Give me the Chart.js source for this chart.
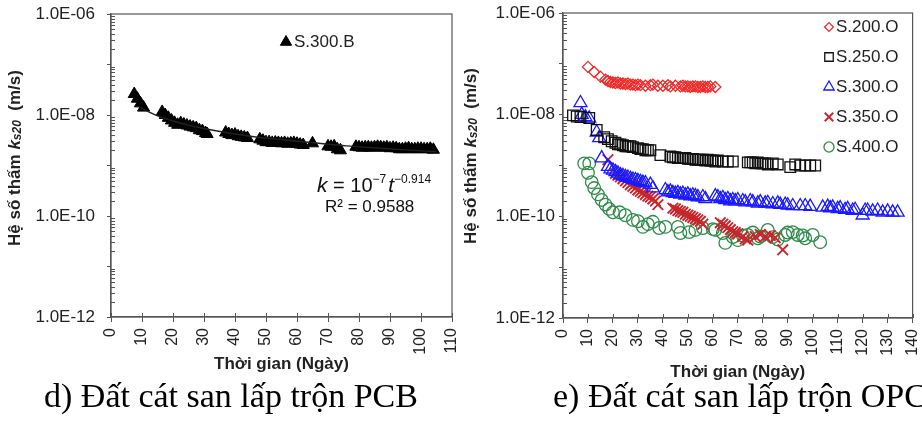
<!DOCTYPE html>
<html><head><meta charset="utf-8">
<script src="https://cdn.jsdelivr.net/npm/chart.js@4.4.0/dist/chart.umd.min.js"></script>
<style>
html,body{margin:0;padding:0;background:#fff}
body{width:922px;height:423px;overflow:hidden;position:relative}
#c1{position:absolute;left:0;top:0}
#c2{position:absolute;left:460px;top:0}
.cap{position:absolute;font-family:"Liberation Serif","Times New Roman",serif;font-size:34px;color:#000;white-space:nowrap;top:376px;line-height:40px}
</style></head>
<body>
<canvas id="c1" width="460" height="380"></canvas>
<canvas id="c2" width="462" height="390"></canvas>
<div class="cap" style="left:44px">d) Đất cát san lấp trộn PCB</div>
<div class="cap" style="left:553px">e) Đất cát san lấp trộn OPC</div>
<script>
// ---------- DATA ----------
const yMajorValues = [1e-12, 1e-10, 1e-8, 1e-6];
const yMajorLabels = ['1.0E-12', '1.0E-10', '1.0E-08', '1.0E-06'];
const xTitle = 'Thời gian (Ngày)';

// d) S.300.B
const pcbDays = [7.5,8.5,9.5,10.5,16.5,17.5,18.5,19.5,20.5,21.5,22.5,23.5,24.5,25.5,26.5,27.5,28.5,29.5,30.5,31,
  37,38,39,40,41,42,43,44,48,49,50,51,52,53,54,55,56,57,58,59,60,61,62,65,70,71,72,73,74,
  79,80,81,82,83,84,85,86,87,88,89,90,91,92,93,94,95,96,97,98,99,100,101,102,103,104];
const pcbK = [2.6e-8,2.1e-8,1.7e-8,1.4e-8,1.15e-8,1.0e-8,8.8e-9,7.8e-9,7.0e-9,6.4e-9,6.9e-9,6.5e-9,6.2e-9,5.9e-9,5.7e-9,5.5e-9,5.0e-9,4.8e-9,4.4e-9,4.2e-9,
  4.5e-9,4.2e-9,4.0e-9,4.1e-9,3.8e-9,3.7e-9,3.6e-9,3.5e-9,3.3e-9,3.1e-9,2.9e-9,2.9e-9,2.8e-9,2.85e-9,2.8e-9,2.75e-9,2.8e-9,2.7e-9,2.75e-9,2.8e-9,2.7e-9,2.6e-9,2.55e-9,2.75e-9,2.4e-9,2.35e-9,2.4e-9,2.1e-9,2.0e-9,
  2.35e-9,2.3e-9,2.25e-9,2.3e-9,2.3e-9,2.25e-9,2.3e-9,2.35e-9,2.3e-9,2.25e-9,2.3e-9,2.2e-9,2.25e-9,2.2e-9,2.1e-9,2.1e-9,2.15e-9,2.2e-9,2.1e-9,2.1e-9,2.15e-9,2.15e-9,2.1e-9,2.1e-9,2.15e-9,2.05e-9];
// trend line
const trendDays = [9.5,12,16,20,25,30,37,45,56,67,76,90,105];
const trendK = [1.42e-8,1.17e-8,9.1e-9,7.6e-9,6.3e-9,5.4e-9,4.5e-9,3.8e-9,3.2e-9,2.75e-9,2.45e-9,2.13e-9,1.87e-9];

// e) OPC series
const s200Days = [10,12.5,15,17,18,19,20,21,22,23,24,25,26,27,28,29,30,31,33,35,36,38,40,42,43,45,47,48,49,50,51,52,53,54,55,56,57,58,59,61];
const s200K = [8.7e-8,6.9e-8,5.6e-8,4.9e-8,4.6e-8,4.4e-8,4.3e-8,4.2e-8,4.3e-8,4.1e-8,4.1e-8,4.0e-8,4.1e-8,3.9e-8,3.9e-8,3.8e-8,3.9e-8,3.8e-8,3.7e-8,3.8e-8,3.9e-8,3.7e-8,3.7e-8,3.8e-8,3.6e-8,3.7e-8,3.6e-8,3.7e-8,3.6e-8,3.6e-8,3.5e-8,3.6e-8,3.6e-8,3.5e-8,3.5e-8,3.6e-8,3.5e-8,3.5e-8,3.6e-8,3.5e-8];

const s250Days = [4,5.5,7,10.5,13.5,16.5,18,19.5,21,22,23,24,25,26,27,28,30,31,32,33,34,35,39,43,44,45,46,47,48,49,50,51,52,53,54,55,56,57,58,59,60,61,62,64,66,68,
  74,75,76,77,78,79,80,81,82,84,86,91,93,95,97,99,101];
const s250K = [9.7e-9,9.2e-9,9.0e-9,8.6e-9,5.0e-9,3.6e-9,3.3e-9,3.0e-9,2.8e-9,2.6e-9,2.6e-9,2.5e-9,2.4e-9,2.4e-9,2.4e-9,2.3e-9,2.2e-9,2.1e-9,2.1e-9,2.0e-9,2.0e-9,2.0e-9,1.6e-9,1.5e-9,1.45e-9,1.45e-9,1.4e-9,1.4e-9,1.4e-9,1.4e-9,1.35e-9,1.35e-9,1.35e-9,1.3e-9,1.3e-9,1.3e-9,1.3e-9,1.25e-9,1.3e-9,1.25e-9,1.25e-9,1.2e-9,1.25e-9,1.2e-9,1.2e-9,1.2e-9,
  1.15e-9,1.15e-9,1.15e-9,1.1e-9,1.15e-9,1.1e-9,1.1e-9,1.1e-9,1.05e-9,1.1e-9,1.05e-9,0.93e-9,1.05e-9,1.0e-9,1.0e-9,1.0e-9,1.0e-9];

const s300Days = [7,7.5,9,10.5,13.5,14.5,15.5,18,19,20,21,22,23,24,25,26,27,28,29,30,31,32,33,35,36,
  41,42,43,44,45,46,47,48,49,50,51,52,53,54,56,57,61,62,63,64,65,66,67,68,69,70,72,73,75,76,78,79,81,82,84,86,87,89,90,92,
  95,97,99,104,106,107,108,110,111,113,114,116,117,120,121,122,124,126,128,130,132,134];
const s300K = [1.7e-8,1.0e-8,9.0e-9,8.5e-9,4.5e-9,3.5e-9,1.4e-9,9.5e-10,8.5e-10,8.0e-10,7.5e-10,7.0e-10,6.5e-10,6.3e-10,6.0e-10,5.8e-10,5.5e-10,5.3e-10,5.2e-10,5.0e-10,4.8e-10,4.6e-10,4.5e-10,4.2e-10,3.6e-10,
  3.3e-10,3.0e-10,3.1e-10,2.9e-10,2.8e-10,2.9e-10,2.7e-10,2.8e-10,2.6e-10,2.7e-10,2.5e-10,2.6e-10,2.5e-10,2.4e-10,2.4e-10,2.2e-10,2.5e-10,2.4e-10,2.2e-10,2.3e-10,2.1e-10,2.2e-10,2.0e-10,2.1e-10,2.0e-10,2.1e-10,2.0e-10,1.9e-10,2.0e-10,1.9e-10,1.8e-10,1.9e-10,1.8e-10,1.85e-10,1.75e-10,1.8e-10,1.7e-10,1.7e-10,1.65e-10,1.6e-10,
  1.6e-10,1.6e-10,1.55e-10,1.5e-10,1.55e-10,1.45e-10,1.5e-10,1.4e-10,1.45e-10,1.35e-10,1.4e-10,1.3e-10,1.35e-10,1.05e-10,1.3e-10,1.3e-10,1.25e-10,1.3e-10,1.2e-10,1.25e-10,1.2e-10,1.2e-10];

const s350Days = [18,21,22,23,24,25,26,27,28,29,30,31,32,33,34,35,36,37,38,44,45,46,47,48,49,50,51,52,53,54,55,56,63,64,65,66,67,68,69,70,72,73,74,77,79,81,83,85,88];
const s350K = [1.3e-9,7.0e-10,6.5e-10,6.0e-10,5.5e-10,5.0e-10,4.6e-10,4.2e-10,3.9e-10,3.6e-10,3.3e-10,3.1e-10,2.9e-10,2.7e-10,2.5e-10,2.4e-10,2.2e-10,2.0e-10,1.7e-10,1.45e-10,1.4e-10,1.3e-10,1.25e-10,1.2e-10,1.1e-10,1.05e-10,1.0e-10,9.5e-11,9.0e-11,8.5e-11,8.0e-11,7.0e-11,7.5e-11,7.0e-11,6.5e-11,6.0e-11,5.5e-11,5.0e-11,4.8e-11,4.5e-11,4.0e-11,3.6e-11,3.4e-11,4.0e-11,4.4e-11,4.0e-11,4.2e-11,3.8e-11,2.2e-11];

const s400Days = [8.5,10.5,10,11.5,12.5,14,15.5,17,18.5,20,22.7,25,28,30,32,34,36,38.5,41,46,47,50.5,53,56,60,61,64,65,68,70,72,74,76,78,79,82,84,86,89,90,92,94,96,97,100,103];
const s400K = [1.1e-9,1.1e-9,7.2e-10,4.7e-10,3.6e-10,2.7e-10,2.1e-10,1.7e-10,1.4e-10,1.2e-10,1.2e-10,1.05e-10,8.5e-11,8.0e-11,6.2e-11,7.0e-11,7.8e-11,5.9e-11,6.2e-11,6.2e-11,4.7e-11,4.9e-11,5.4e-11,5.9e-11,5.6e-11,5.4e-11,4.7e-11,3.0e-11,3.9e-11,3.4e-11,4.2e-11,4.3e-11,4.8e-11,3.7e-11,4.0e-11,5.4e-11,3.9e-11,3.5e-11,4.3e-11,4.8e-11,4.9e-11,4.3e-11,4.2e-11,3.7e-11,4.3e-11,3.1e-11];

// ---------- HELPERS ----------
const SANS = '"Liberation Sans", Arial, sans-serif';
Chart.defaults.font.family = SANS;
const pts = (xs, ys) => xs.map((x, i) => ({x, y: ys[i]}));
const isDecade = v => Math.abs(Math.log10(v) - Math.round(Math.log10(v))) < 1e-6;
const majorIndex = v => yMajorValues.findIndex(m => Math.abs(m - v) / m < 1e-6);

function yScale(width, pad) {
  return {
    type: 'logarithmic', min: 1e-12, max: 1e-6,
    afterBuildTicks: s => {
      const t = [];
      for (let e = -12; e < -6; e++) for (let m = 1; m < 10; m++) t.push({value: m * Math.pow(10, e)});
      t.push({value: 1e-6});
      s.ticks = t;
    },
    afterFit: s => { s.width = width; s.paddingTop = 0; s.paddingBottom = 0; },
    ticks: {
      autoSkip: false, padding: pad, color: '#222', font: {size: 17},
      callback: v => { const i = majorIndex(v); return i >= 0 ? yMajorLabels[i] : ''; }
    },
    grid: {drawOnChartArea: false, drawTicks: true, tickLength: 4,
      tickColor: c => (c.tick && isDecade(c.tick.value)) ? '#555' : 'rgba(0,0,0,0)', color: '#555'},
    border: {color: '#555', width: 1.2}
  };
}
function xScale(max, height, titlePad) {
  return {
    type: 'linear', min: 0, max: max,
    afterFit: s => { s.height = height; s.paddingLeft = 0; s.paddingRight = 0; },
    ticks: {stepSize: 10, minRotation: 90, maxRotation: 90, padding: 6, color: '#222', font: {size: 16}},
    grid: {drawOnChartArea: false, drawTicks: true, tickLength: 5, color: '#555'},
    border: {color: '#555', width: 1.2},
    title: {display: true, text: xTitle, color: '#222', font: {size: 17, weight: 'bold'}, padding: {top: 0, bottom: titlePad}}
  };
}
function measureRuns(ctx, runs) {
  let w = 0;
  runs.forEach(r => { ctx.font = r.f; w += ctx.measureText(r.t).width; });
  return w;
}
function yTitlePlugin(cx, cy) {
  return {
    id: 'ytitle',
    afterDraw(chart) {
      const ctx = chart.ctx;
      const runs = [
        {t: 'Hệ số thấm ', f: 'bold 17px ' + SANS, dy: 0},
        {t: 'k', f: 'italic bold 17px ' + SANS, dy: 0},
        {t: 's20', f: 'italic bold 12px ' + SANS, dy: 3},
        {t: '  (m/s)', f: 'bold 17px ' + SANS, dy: 0}
      ];
      ctx.save();
      ctx.translate(cx, cy);
      ctx.rotate(-Math.PI / 2);
      ctx.fillStyle = '#222';
      ctx.textBaseline = 'middle';
      const w = measureRuns(ctx, runs);
      let x = -w / 2;
      runs.forEach(r => { ctx.font = r.f; ctx.fillText(r.t, x, r.dy); x += ctx.measureText(r.t).width; });
      ctx.restore();
    }
  };
}
const framePlugin = {
  id: 'frame',
  afterDraw(chart) {
    const {ctx, chartArea: a} = chart;
    const y = chart.scales.y;
    ctx.save();
    ctx.strokeStyle = '#555';
    ctx.lineWidth = 1.2;
    ctx.strokeRect(a.left, a.top, a.right - a.left, a.bottom - a.top);
    ctx.lineWidth = 1;
    y.ticks.forEach(t => {
      if (!isDecade(t.value)) {
        const py = Math.round(y.getPixelForValue(t.value)) + 0.5;
        ctx.beginPath(); ctx.moveTo(a.left, py); ctx.lineTo(a.left + 4, py); ctx.stroke();
      }
    });
    const x = chart.scales.x;
    x.ticks.forEach(t => {
      const px = Math.round(x.getPixelForValue(t.value)) + 0.5;
      ctx.beginPath(); ctx.moveTo(px, a.bottom); ctx.lineTo(px, a.bottom - 4); ctx.stroke();
    });
    ctx.restore();
  }
};

// ---------- CHART d ----------
const legendD = {
  id: 'legendD',
  afterDraw(chart) {
    const ctx = chart.ctx;
    ctx.save();
    ctx.fillStyle = '#000'; ctx.strokeStyle = '#000'; ctx.lineWidth = 1;
    Chart.helpers.drawPoint(ctx, {pointStyle: 'triangle', radius: 6.5, rotation: 0, borderWidth: 1}, 286, 42);
    ctx.font = '17px ' + SANS; ctx.fillStyle = '#222'; ctx.textBaseline = 'middle';
    ctx.fillText('S.300.B', 294, 42);
    // equation
    let x = 317; const base = 192;
    ctx.textBaseline = 'alphabetic'; ctx.fillStyle = '#111';
    const put = (t, f, dy) => { ctx.font = f; ctx.fillText(t, x, base + dy); x += ctx.measureText(t).width; };
    put('k', 'italic 21px ' + SANS, 0);
    put(' = ', '20px ' + SANS, 0);
    put('10', '20px ' + SANS, 0);
    put('−7', '12px ' + SANS, -9);
    x += 2;
    put('t', 'italic 21px ' + SANS, 0);
    put('−0.914', '12px ' + SANS, -9);
    ctx.font = '17px ' + SANS; ctx.textAlign = 'left';
    ctx.fillText('R² = 0.9588', 325, 212);
    ctx.restore();
  }
};
new Chart(document.getElementById('c1'), {
  type: 'scatter',
  data: {datasets: [
    {label: 'S.300.B', data: pts(pcbDays, pcbK), pointStyle: 'triangle', pointRadius: 7, backgroundColor: '#000', borderColor: '#000', borderWidth: 1, order: 2},
    {label: 'trend', data: pts(trendDays, trendK), showLine: true, pointRadius: 0, borderColor: '#222', borderWidth: 1.4, cubicInterpolationMode: 'monotone', fill: false, order: 1}
  ]},
  options: {
    responsive: false, animation: false, events: [],
    layout: {padding: {left: 0, right: 6, top: 14, bottom: 0}},
    plugins: {legend: {display: false}, tooltip: {enabled: false}},
    scales: {x: xScale(110, 63, 5), y: yScale(111, 12)}
  },
  plugins: [framePlugin, yTitlePlugin(15, 158), legendD]
});

// ---------- CHART e ----------
const seriesE = [
  {label: 'S.200.O', days: s200Days, k: s200K, style: 'rectRot', r: 5.5, color: '#ee2a2a', bw: 1.3},
  {label: 'S.250.O', days: s250Days, k: s250K, style: 'rect', r: 7.5, color: '#111111', bw: 1.3},
  {label: 'S.300.O', days: s300Days, k: s300K, style: 'triangle', r: 7.5, color: '#1a1aff', bw: 1.3},
  {label: 'S.350.O', days: s350Days, k: s350K, style: 'crossRot', r: 7.5, color: '#c8262c', bw: 1.9},
  {label: 'S.400.O', days: s400Days, k: s400K, style: 'circle', r: 6.3, color: '#2e8b4a', bw: 1.3}
];
const legendE = {
  id: 'legendE',
  afterDraw(chart) {
    const ctx = chart.ctx;
    ctx.save();
    seriesE.forEach((s, i) => {
      const yy = 27 + i * 30;
      ctx.strokeStyle = s.color; ctx.fillStyle = 'rgba(0,0,0,0)'; ctx.lineWidth = s.bw;
      Chart.helpers.drawPoint(ctx, {pointStyle: s.style, radius: s.r * 0.8, rotation: 0, borderWidth: s.bw}, 369, yy);
      ctx.fillStyle = '#222'; ctx.font = '17px ' + SANS; ctx.textBaseline = 'middle';
      ctx.fillText(s.label, 376, yy);
    });
    ctx.restore();
  }
};
new Chart(document.getElementById('c2'), {
  type: 'scatter',
  data: {datasets: seriesE.map(s => ({
    label: s.label, data: pts(s.days, s.k), pointStyle: s.style, pointRadius: s.r,
    borderColor: s.color, backgroundColor: 'rgba(0,0,0,0)', borderWidth: s.bw
  }))},
  options: {
    responsive: false, animation: false, events: [],
    layout: {padding: {left: 0, right: 7, top: 13, bottom: 0}},
    plugins: {legend: {display: false}, tooltip: {enabled: false}},
    scales: {x: xScale(140, 72, 7), y: yScale(103, 4)}
  },
  plugins: [framePlugin, yTitlePlugin(11, 156), legendE]
});
</script>
</body></html>
